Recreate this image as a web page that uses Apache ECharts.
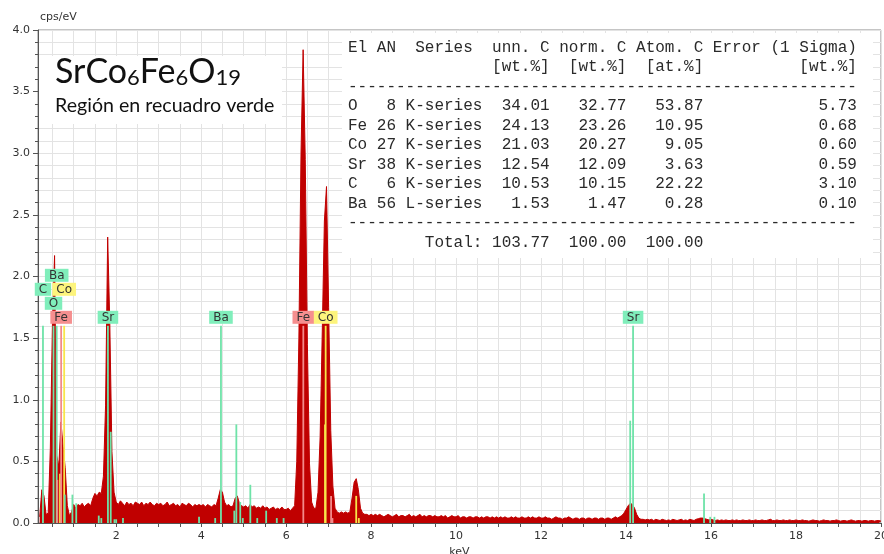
<!DOCTYPE html>
<html>
<head>
<meta charset="utf-8">
<script src="https://cdn.jsdelivr.net/npm/echarts@6/dist/echarts.min.js"></script>
<style>
  html, body { margin: 0; padding: 0; background: #ffffff; }
  #chart { width: 884px; height: 554px; }
</style>
</head>
<body>
<div id="chart"></div>
<script>
// ---- EDS spectrum: counts per channel (cps/eV), first channel 0.20 keV, 0.05 keV wide ----
const channelStart = 0.20;
const channelWidth = 0.05;
const counts = [
  // 0.20 - 0.95
  0.05, 0.27, 0.22, 0.07, 0.08, 0.60, 1.62, 2.17, 0.55, 0.46, 0.82, 0.62, 0.45, 0.14, 0.06, 0.09,
  // 1.00 - 1.95
  0.15, 0.12, 0.15, 0.14, 0.16, 0.13, 0.15, 0.16, 0.14, 0.20, 0.24, 0.22, 0.25, 0.24, 0.38, 0.95, 2.32, 1.62, 0.58, 0.25,
  // 2.00 - 2.95
  0.17, 0.15, 0.18, 0.16, 0.14, 0.17, 0.15, 0.16, 0.14, 0.17, 0.16, 0.15, 0.17, 0.14, 0.16, 0.15, 0.17, 0.15, 0.14, 0.16,
  // 3.00 - 3.95
  0.15, 0.16, 0.14, 0.15, 0.17, 0.14, 0.15, 0.16, 0.14, 0.15, 0.13, 0.16, 0.15, 0.14, 0.16, 0.15, 0.13, 0.15, 0.14, 0.15,
  // 4.00 - 4.95
  0.14, 0.15, 0.13, 0.15, 0.14, 0.13, 0.15, 0.14, 0.20, 0.27, 0.25, 0.17, 0.14, 0.15, 0.13, 0.14, 0.20, 0.22, 0.16, 0.14,
  // 5.00 - 5.95
  0.13, 0.14, 0.12, 0.15, 0.13, 0.14, 0.12, 0.13, 0.12, 0.14, 0.12, 0.13, 0.11, 0.12, 0.13, 0.11, 0.12, 0.11, 0.13, 0.11,
  // 6.00 - 6.95
  0.11, 0.12, 0.10, 0.12, 0.14, 0.50, 1.50, 3.00, 3.84, 2.95, 1.45, 0.48, 0.17, 0.12, 0.12, 0.25, 0.70, 1.55, 2.45, 2.73,
  // 7.00 - 7.95
  1.75, 0.75, 0.30, 0.12, 0.09, 0.08, 0.09, 0.08, 0.09, 0.08, 0.09, 0.20, 0.33, 0.36, 0.27, 0.12, 0.08, 0.07, 0.07, 0.06,
  // 8.00 - 8.95
  0.07, 0.06, 0.07, 0.06, 0.07, 0.06, 0.05, 0.06, 0.07, 0.06, 0.05, 0.06, 0.07, 0.05, 0.06, 0.06, 0.05, 0.06, 0.07, 0.05,
  // 9.00 - 9.95
  0.06, 0.05, 0.06, 0.07, 0.05, 0.06, 0.05, 0.06, 0.06, 0.05, 0.06, 0.05, 0.05, 0.06, 0.05, 0.06, 0.04, 0.05, 0.06, 0.05,
  // 10.00 - 10.95
  0.05, 0.06, 0.04, 0.05, 0.05, 0.04, 0.05, 0.05, 0.04, 0.05, 0.05, 0.04, 0.05, 0.04, 0.05, 0.05, 0.04, 0.05, 0.04, 0.05,
  // 11.00 - 11.95
  0.04, 0.05, 0.04, 0.05, 0.04, 0.04, 0.05, 0.04, 0.05, 0.04, 0.04, 0.05, 0.04, 0.04, 0.05, 0.04, 0.05, 0.04, 0.04, 0.05,
  // 12.00 - 12.95
  0.04, 0.04, 0.05, 0.04, 0.04, 0.03, 0.04, 0.05, 0.04, 0.04, 0.03, 0.04, 0.04, 0.05, 0.04, 0.03, 0.04, 0.04, 0.03, 0.04,
  // 13.00 - 13.95
  0.04, 0.03, 0.04, 0.04, 0.03, 0.04, 0.04, 0.03, 0.04, 0.04, 0.03, 0.04, 0.04, 0.03, 0.04, 0.05, 0.04, 0.05, 0.06, 0.08,
  // 14.00 - 14.95
  0.11, 0.14, 0.16, 0.15, 0.12, 0.07, 0.04, 0.03, 0.03, 0.025, 0.03, 0.025, 0.03, 0.02, 0.03, 0.025, 0.02, 0.03, 0.025, 0.02,
  // 15.00 - 15.95
  0.025, 0.02, 0.03, 0.025, 0.02, 0.025, 0.03, 0.02, 0.025, 0.02, 0.03, 0.025, 0.02, 0.03, 0.035, 0.04, 0.04, 0.035, 0.03, 0.025,
  // 16.00 - 16.95
  0.03, 0.025, 0.02, 0.025, 0.02, 0.025, 0.02, 0.025, 0.02, 0.02, 0.025, 0.02, 0.025, 0.02, 0.02, 0.025, 0.02, 0.02, 0.025, 0.02,
  // 17.00 - 17.95
  0.02, 0.025, 0.02, 0.02, 0.025, 0.02, 0.02, 0.025, 0.03, 0.02, 0.02, 0.025, 0.02, 0.02, 0.025, 0.02, 0.02, 0.025, 0.02, 0.02,
  // 18.00 - 18.95
  0.025, 0.02, 0.02, 0.025, 0.02, 0.02, 0.015, 0.02, 0.025, 0.02, 0.02, 0.015, 0.02, 0.025, 0.02, 0.02, 0.015, 0.02, 0.02, 0.025,
  // 19.00 - 20.00
  0.02, 0.015, 0.02, 0.02, 0.015, 0.02, 0.025, 0.02, 0.015, 0.02, 0.02, 0.015, 0.02, 0.02, 0.015, 0.02, 0.02, 0.015, 0.02, 0.02, 0.015
];

// ---- Element line markers (energy keV, marker height, element) ----
const markerKeV = [
  0.277, 0.525, 0.600, 0.615, 0.678, 0.705, 0.776, 0.790, 0.970, 1.060,
  1.590, 1.650, 1.806, 1.872, 1.960, 2.000, 2.160,
  3.950, 4.330, 4.466, 4.780, 4.828, 4.920, 4.980, 5.157, 5.320, 5.530, 5.780, 5.940,
  6.404, 6.915, 6.930, 7.058, 7.090, 7.649, 7.710,
  14.098, 14.165, 15.835, 15.980, 16.080
];
const markerHeight = [
  1.60, 1.60, 1.60, 0.35, 0.40, 1.60, 1.60, 0.23, 0.23, 0.16,
  0.06, 0.04, 1.60, 0.74, 0.03, 0.03, 0.04,
  0.05, 0.04, 1.60, 0.10, 0.80, 0.17, 0.04, 0.31, 0.04, 0.10, 0.04, 0.04,
  1.60, 0.80, 1.60, 0.22, 0.04, 0.22, 0.04,
  0.83, 1.60, 0.24, 0.05, 0.05
];
const markerElement = [
  'C', 'O', 'Ba', 'Fe', 'Co', 'Fe', 'Co', 'Ba', 'Ba', 'Ba',
  'Sr', 'Sr', 'Sr', 'Sr', 'Sr', 'Sr', 'Sr',
  'Ba', 'Ba', 'Ba', 'Ba', 'Ba', 'Ba', 'Ba', 'Ba', 'Ba', 'Ba', 'Ba', 'Ba',
  'Fe', 'Co', 'Co', 'Fe', 'Fe', 'Co', 'Co',
  'Sr', 'Sr', 'Sr', 'Sr', 'Sr'
];

// ---- Element tags ----
const tagElement = ['Fe', 'O', 'C', 'Co', 'Ba', 'Sr', 'Ba', 'Fe', 'Co', 'Sr'];
const tagKeV = [0.705, 0.525, 0.277, 0.776, 0.600, 1.806, 4.466, 6.404, 6.930, 14.165];
const tagStack = [0, 1, 2, 2, 3, 0, 0, 0, 0, 0];   // stacking row above the marker top
const markerTop = 1.60;

// ---- Quantification table ----
const tblEl = ['O', 'Fe', 'Co', 'Sr', 'C', 'Ba'];
const tblAN = [8, 26, 27, 38, 6, 56];
const tblSeries = ['K-series', 'K-series', 'K-series', 'K-series', 'K-series', 'L-series'];
const tblUnnC = [34.01, 24.13, 21.03, 12.54, 10.53, 1.53];
const tblNormC = [32.77, 23.26, 20.27, 12.09, 10.15, 1.47];
const tblAtomC = [53.87, 10.95, 9.05, 3.63, 22.22, 0.28];
const tblError = [5.73, 0.68, 0.60, 0.59, 3.10, 0.10];
const tblTotal = [103.77, 100.00, 100.00];

// ---- Axis ticks ----
const keVLabels = [2, 4, 6, 8, 10, 12, 14, 16, 18, 20];
const keVTicks = [0.5, 1, 1.5, 2, 2.5, 3, 3.5, 4, 4.5, 5, 5.5, 6, 6.5, 7, 7.5, 8, 8.5, 9, 9.5, 10,
                  10.5, 11, 11.5, 12, 12.5, 13, 13.5, 14, 14.5, 15, 15.5, 16, 16.5, 17, 17.5, 18, 18.5, 19, 19.5, 20];

// ---------------------------------------------------------------------------
const elementColor = { Fe: '#f28a8a', Co: '#f7e64a', other: '#6ee3a8' };
const tagColor = { Fe: '#f58f8f', Co: '#fdf47c', other: '#80eebb' };
const colorOf = (map, el) => map[el] || map.other;

const spectrum = counts.map((c, i) => [+(channelStart + i * channelWidth).toFixed(2), c]);

const tableLines = [
  'El AN  Series  unn. C norm. C Atom. C Error (1 Sigma)',
  ' '.repeat(15) + '[wt.%]  [wt.%]  [at.%]' + ' '.repeat(10) + '[wt.%]',
  '-'.repeat(53)
];
tblEl.forEach((el, i) => {
  tableLines.push(
    el.padEnd(2) + ' ' + String(tblAN[i]).padStart(2) + ' ' + tblSeries[i].padEnd(8) +
    tblUnnC[i].toFixed(2).padStart(7) + tblNormC[i].toFixed(2).padStart(8) +
    tblAtomC[i].toFixed(2).padStart(8) + tblError[i].toFixed(2).padStart(16)
  );
});
tableLines.push('-'.repeat(53));
tableLines.push(' '.repeat(8) + 'Total:' + tblTotal[0].toFixed(2).padStart(7) +
  tblTotal[1].toFixed(2).padStart(8) + tblTotal[2].toFixed(2).padStart(8));

const chart = echarts.init(document.getElementById('chart'), null, { renderer: 'canvas' });

const option = {
  animation: false,
  backgroundColor: '#ffffff',
  grid: {
    left: 38, right: 3, top: 30, bottom: 31,
    outerBoundsMode: 'none',
    containLabel: false,
    show: true, borderColor: '#8a8a8a', borderWidth: 1, backgroundColor: 'transparent'
  },
  xAxis: {
    type: 'value',
    min: 0.16, max: 20,
    name: 'keV', nameLocation: 'middle', nameGap: 19,
    nameTextStyle: { color: '#333', fontSize: 11, fontFamily: 'DejaVu Sans' },
    axisLine: { show: true, lineStyle: { color: '#555', width: 1 } },
    axisTick: { show: true, inside: false, length: 4, customValues: keVTicks, lineStyle: { color: '#555' } },
    axisLabel: { customValues: keVLabels, color: '#333', fontSize: 11, fontFamily: 'DejaVu Sans', margin: 8, hideOverlap: false },
    splitLine: { show: true, lineStyle: { color: '#e3e3e3', width: 1 } }
  },
  yAxis: {
    type: 'value',
    min: 0, max: 4, interval: 0.5,
    name: 'cps/eV', nameLocation: 'end', nameGap: 7,
    nameTextStyle: { color: '#333', fontSize: 11, fontFamily: 'DejaVu Sans', align: 'left', padding: [0, 0, 0, 2] },
    axisLine: { show: true, lineStyle: { color: '#555', width: 1 } },
    axisTick: { show: true, inside: false, length: 5, lineStyle: { color: '#555' } },
    minorTick: { show: true, splitNumber: 5, length: 3, lineStyle: { color: '#555' } },
    axisLabel: { color: '#333', fontSize: 11, fontFamily: 'DejaVu Sans', margin: 8, formatter: v => v.toFixed(1) },
    splitLine: { show: true, lineStyle: { color: '#e3e3e3', width: 1 } },
    minorSplitLine: { show: true, lineStyle: { color: '#e3e3e3', width: 1 } }
  },
  graphic: [
    // title panel
    { type: 'rect', z: 1, shape: { x: 39, y: 56, width: 243, height: 68 }, style: { fill: '#ffffff' } },
    {
      type: 'text', z: 5, x: 55, y: 89,
      style: {
        text: '{m|SrCo}{s|6}{m|Fe}{s|6}{m|O}{s|19}',
        verticalAlign: 'bottom',
        rich: {
          m: { fontSize: 34, fontFamily: 'Lato', fill: '#111', verticalAlign: 'bottom' },
          s: { fontSize: 22, fontFamily: 'Lato', fill: '#111', verticalAlign: 'bottom' }
        }
      }
    },
    {
      type: 'text', z: 5, x: 55, y: 106,
      style: { text: 'Región en recuadro verde', font: '19.6px Lato', fill: '#111', verticalAlign: 'middle' }
    },
    // quantification table panel
    { type: 'rect', z: 1, shape: { x: 342, y: 33, width: 531, height: 225 }, style: { fill: '#ffffff' } },
    {
      type: 'text', z: 5, x: 348, y: 38,
      style: {
        text: tableLines.join('\n'),
        font: '16px "Liberation Mono"', fill: '#2a2a2a', lineHeight: 19.5, verticalAlign: 'top'
      }
    }
  ],
  series: [
    {
      type: 'line',
      data: spectrum,
      showSymbol: false,
      symbol: 'none',
      z: 2,
      lineStyle: { color: '#c00000', width: 1 },
      areaStyle: { color: '#c00000', opacity: 1 },
      silent: true
    },
    {
      type: 'custom',
      z: 3,
      silent: true,
      data: markerKeV.map((e, i) => [e, markerHeight[i], i]),
      renderItem: (params, api) => {
        const i = api.value(2);
        const p0 = api.coord([api.value(0), 0]);
        const p1 = api.coord([api.value(0), api.value(1)]);
        return {
          type: 'line',
          shape: { x1: p0[0], y1: p0[1], x2: p1[0], y2: p1[1] },
          style: { stroke: colorOf(elementColor, markerElement[i]), lineWidth: 1.8 }
        };
      }
    },
    {
      type: 'custom',
      z: 4,
      silent: true,
      data: tagKeV.map((e, i) => [e, markerTop, i]),
      renderItem: (params, api) => {
        const i = api.value(2);
        const p = api.coord([api.value(0), api.value(1)]);
        return {
          type: 'text',
          x: p[0],
          y: p[1] - 2 - tagStack[i] * 14,
          style: {
            text: tagElement[i],
            font: '12px "DejaVu Sans"',
            fill: '#333',
            align: 'center',
            verticalAlign: 'bottom',
            backgroundColor: colorOf(tagColor, tagElement[i]),
            padding: [1, 4, 0, 4]
          }
        };
      }
    }
  ]
};

chart.setOption(option);
</script>
</body>
</html>
